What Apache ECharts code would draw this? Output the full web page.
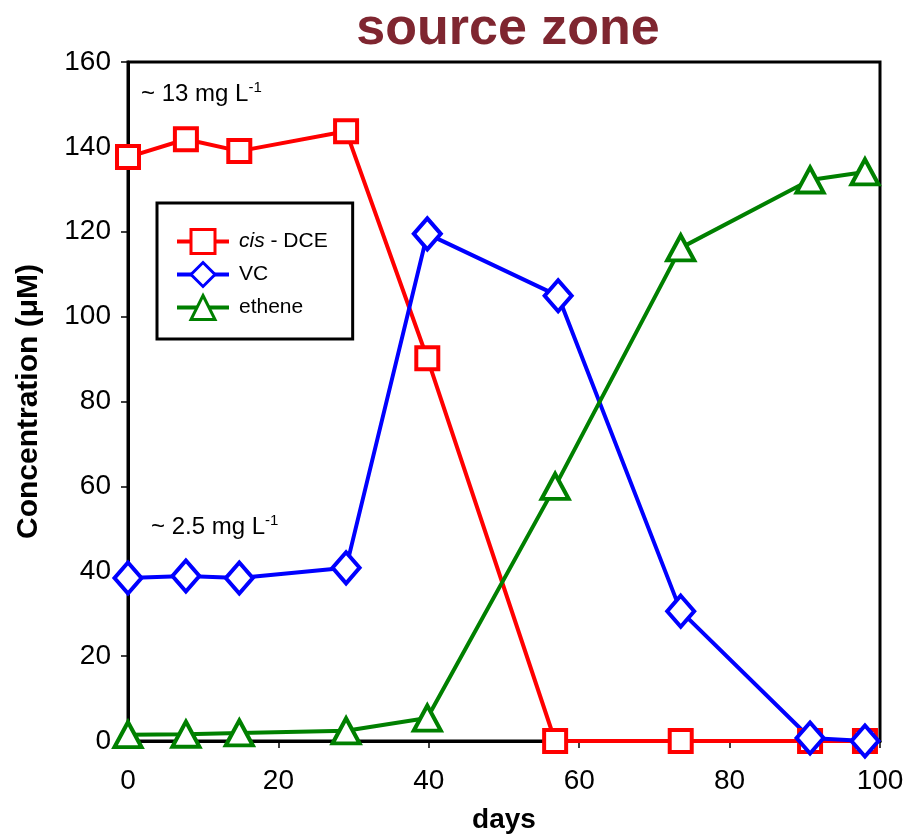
<!DOCTYPE html>
<html><head><meta charset="utf-8">
<script src="https://cdn.jsdelivr.net/npm/echarts@6/dist/echarts.min.js"></script>
<style>html,body{margin:0;padding:0;background:#fff}#c{width:909px;height:840px}</style>
</head><body><div id="c"></div>
<script>
const days1 = [0, 7.7, 14.8, 29, 39.8, 56.8, 73.5, 90.7, 98];
const days2 = [0, 7.7, 14.8, 29, 39.8, 57.2, 73.5, 90.7, 98];
const days3 = [0, 7.7, 14.8, 29, 39.8, 56.8, 73.5, 90.7, 98];
const cisDCE = [137.6, 141.8, 139.0, 143.7, 90.2, 0, 0, 0, 0];
const VC = [38.4, 38.9, 38.4, 40.8, 119.5, 104.9, 30.6, 0.7, 0];
const ethene = [1.5, 1.6, 1.9, 2.4, 5.4, 60, 116.2, 132.2, 134.1];
const xTicks = [0, 20, 40, 60, 80, 100];
const yTicks = [0, 20, 40, 60, 80, 100, 120, 140, 160];
const names = ['cis - DCE', 'VC', 'ethene'];

const font = 'Liberation Sans, Arial, sans-serif';
function pair(xs, ys){ return xs.map((x,i)=>[x, ys[i]]); }
function ser(name, xs, ys, color, symbol, size){
  return {
    name, type:'line', data: pair(xs, ys), symbol, symbolSize: size,
    lineStyle:{color, width:4}, itemStyle:{color:'#fff', borderColor:color, borderWidth:4},
    emphasis:{disabled:true}, z: 3
  };
}
const chart = echarts.init(document.getElementById('c'), null, {renderer:'canvas'});
chart.setOption({
  animation:false,
  title:{text:'source zone', left:503, top:-1, textAlign:'center',
    textStyle:{fontFamily:font, fontSize:52, fontWeight:'bold', color:'#7F2630'}},
  grid:{left:128, right:29, top:62, bottom:99, show:true, borderColor:'#000', borderWidth:3, backgroundColor:'transparent'},
  xAxis:{type:'value', min:xTicks[0], max:xTicks[xTicks.length-1], interval:20,
    name:'days', nameLocation:'middle', nameGap:65,
    nameTextStyle:{fontFamily:font, fontSize:28, fontWeight:'bold', color:'#000'},
    axisLine:{show:true, onZero:false, lineStyle:{color:'#000', width:3}},
    axisTick:{show:true, length:7, lineStyle:{color:'#000', width:1.5}},
    axisLabel:{fontFamily:font, fontSize:28, color:'#000', margin:26},
    splitLine:{show:false}},
  yAxis:{type:'value', min:yTicks[0], max:yTicks[yTicks.length-1], interval:20,
    name:'Concentration (μM)', nameLocation:'middle', nameGap:84,
    nameTextStyle:{fontFamily:font, fontSize:30, fontWeight:'bold', color:'#000'},
    axisLine:{show:true, lineStyle:{color:'#000', width:3}},
    axisTick:{show:true, length:7, lineStyle:{color:'#000', width:1.5}},
    axisLabel:{fontFamily:font, fontSize:28, color:'#000', margin:17},
    splitLine:{show:false}},
  legend:{data:names, orient:'vertical', left:157, top:203,
    padding:[25, 25, 18, 18], itemGap:6, itemWidth:52, itemHeight:30,
    borderColor:'#000', borderWidth:3, backgroundColor:'#fff',
    itemStyle:{borderWidth:3}, lineStyle:{width:4},
    textStyle:{fontFamily:font, fontSize:21, color:'#000', padding:[0,0,0,5],
      rich:{i:{fontStyle:'italic', fontFamily:font, fontSize:21, color:'#000'}}},
    formatter: n => n === 'cis - DCE' ? '{i|cis} - DCE' : n},
  graphic:[
    {type:'text', z:10, style:{x:141, y:94, verticalAlign:'middle', text:'~ 13 mg L{s|-1}', font:'24px '+font, fill:'#000',
      rich:{s:{fontSize:15, verticalAlign:'top', padding:[0,0,12,0], fontFamily:font}}}},
    {type:'text', z:10, style:{x:151, y:527, verticalAlign:'middle', text:'~ 2.5 mg L{s|-1}', font:'24px '+font, fill:'#000',
      rich:{s:{fontSize:15, verticalAlign:'top', padding:[0,0,12,0], fontFamily:font}}}}
  ],
  series:[
    ser(names[0], days1, cisDCE, '#FF0000', 'rect', 22),
    ser(names[1], days2, VC, '#0000FF', 'diamond', [27, 31]),
    ser(names[2], days3, ethene, '#008000', 'triangle', [27, 25])
  ]
});
</script></body></html>
